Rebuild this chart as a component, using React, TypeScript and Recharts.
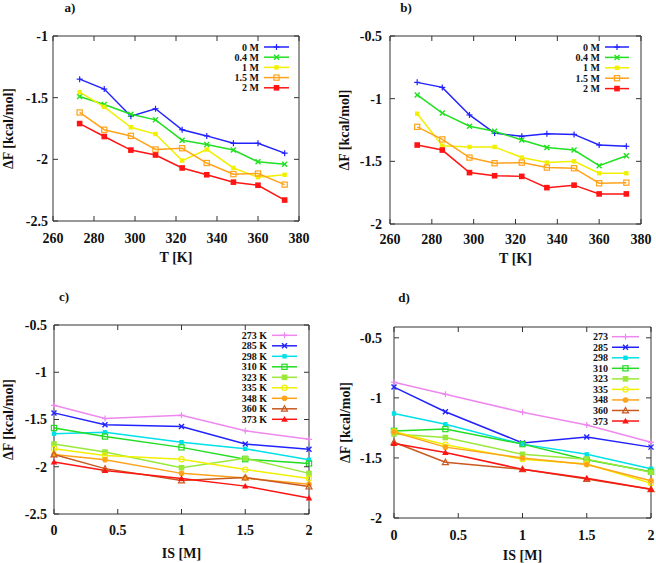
import React from 'react';
import { LineChart, Line, XAxis, YAxis, CartesianGrid, Label } from 'recharts';

// temperatures (K) and ionic strengths (M)
const temperatures = [273, 285, 298, 310, 323, 335, 348, 360, 373];
const ionicStrengths = [0, 0.4, 1, 1.5, 2];
const ionicLabels = ['0 M', '0.4 M', '1 M', '1.5 M', '2 M'];
const tempLabelsK = ['273 K', '285 K', '298 K', '310 K', '323 K', '335 K', '348 K', '360 K', '373 K'];
const tempLabels = ['273', '285', '298', '310', '323', '335', '348', '360', '373'];

// panels a and c: ΔF [kcal/mol] vs T, one list per ionic strength
const dfA_0M = [-1.35, -1.43, -1.65, -1.59, -1.76, -1.81, -1.87, -1.87, -1.95];
const dfA_04M = [-1.49, -1.555, -1.635, -1.68, -1.845, -1.88, -1.925, -2.02, -2.04];
const dfA_1M = [-1.455, -1.575, -1.74, -1.795, -2.01, -1.92, -2.07, -2.145, -2.125];
const dfA_15M = [-1.62, -1.76, -1.81, -1.92, -1.91, -2.03, -2.12, -2.115, -2.205];
const dfA_2M = [-1.71, -1.815, -1.925, -1.965, -2.07, -2.125, -2.185, -2.21, -2.33];

// panels b and d
const dfB_0M = [-0.87, -0.91, -1.13, -1.275, -1.3, -1.28, -1.285, -1.37, -1.38];
const dfB_04M = [-0.97, -1.115, -1.22, -1.26, -1.33, -1.39, -1.41, -1.535, -1.455];
const dfB_1M = [-1.12, -1.375, -1.385, -1.385, -1.47, -1.51, -1.5, -1.595, -1.595];
const dfB_15M = [-1.225, -1.325, -1.47, -1.515, -1.51, -1.55, -1.555, -1.675, -1.67];
const dfB_2M = [-1.37, -1.41, -1.59, -1.615, -1.62, -1.71, -1.69, -1.76, -1.76];

const tempTicks = [260, 280, 300, 320, 340, 360, 380];
const isTicks = [0, 0.5, 1, 1.5, 2];
const yTicksA = [-2.5, -2, -1.5, -1];
const yTicksB = [-2, -1.5, -1, -0.5];
const yTicksC = [-2.5, -2, -1.5, -1, -0.5];
const yTicksD = [-2, -1.5, -1, -0.5];

const ionicColors = ['#2222ff', '#22e022', '#f0f000', '#ffa31a', '#ff1414'];
const ionicShapes = ['plus', 'cross', 'star', 'openSquare', 'square'];
const tempColors = ['#ee88ee', '#2222ff', '#00e0e8', '#22dd22', '#99e83a', '#f0f000', '#ffa31a', '#c8581f', '#ff1414'];
const tempShapes = ['plus', 'cross', 'star', 'openSquare', 'square', 'openCircle', 'circle', 'openTriangle', 'triangle'];

const seriesA = [dfA_0M, dfA_04M, dfA_1M, dfA_15M, dfA_2M];
const seriesB = [dfB_0M, dfB_04M, dfB_1M, dfB_15M, dfB_2M];

function byTemperature(series: number[][]) {
  return temperatures.map((t, i) => {
    const row: any = { x: t };
    series.forEach((s, j) => (row['s' + j] = s[i]));
    return row;
  });
}

function byIonicStrength(series: number[][]) {
  return ionicStrengths.map((c, j) => {
    const row: any = { x: c };
    temperatures.forEach((_, i) => (row['s' + i] = series[j][i]));
    return row;
  });
}

const FONT = '"Liberation Serif", "DejaVu Serif", serif';
const AXIS = '#333';
const TICK = 5;

function Marker({ shape, cx, cy, color }: any) {
  if (cx == null || cy == null) return null;
  const sw = 1.2;
  switch (shape) {
    case 'plus':
      return (
        <g stroke={color} strokeWidth={sw}>
          <line x1={cx - 3} x2={cx + 3} y1={cy} y2={cy} />
          <line x1={cx} x2={cx} y1={cy - 3} y2={cy + 3} />
        </g>
      );
    case 'cross':
      return (
        <g stroke={color} strokeWidth={1.4}>
          <line x1={cx - 2.5} x2={cx + 2.5} y1={cy - 2.5} y2={cy + 2.5} />
          <line x1={cx - 2.5} x2={cx + 2.5} y1={cy + 2.5} y2={cy - 2.5} />
        </g>
      );
    case 'star':
      return <rect x={cx - 2.2} y={cy - 2.2} width={4.4} height={4.4} fill={color} />;
    case 'openSquare':
      return <rect x={cx - 2.6} y={cy - 2.6} width={5.2} height={5.2} fill="none" stroke={color} strokeWidth={sw} />;
    case 'square':
      return <rect x={cx - 2.8} y={cy - 2.8} width={5.6} height={5.6} fill={color} />;
    case 'openCircle':
      return <circle cx={cx} cy={cy} r={2.6} fill="none" stroke={color} strokeWidth={sw} />;
    case 'circle':
      return <circle cx={cx} cy={cy} r={2.8} fill={color} />;
    case 'openTriangle':
      return <path d={`M${cx},${cy - 3} L${cx + 3},${cy + 2.4} L${cx - 3},${cy + 2.4} Z`} fill="none" stroke={color} strokeWidth={sw} />;
    case 'triangle':
      return <path d={`M${cx},${cy - 3.2} L${cx + 3.3},${cy + 2.5} L${cx - 3.3},${cy + 2.5} Z`} fill={color} />;
    default:
      return null;
  }
}

interface PanelProps {
  left: number;
  top: number;
  width: number;
  height: number;
  plot: { x0: number; x1: number; y0: number; y1: number };
  letter: string;
  letterPos: [number, number];
  data: any[];
  names: string[];
  colors: string[];
  shapes: string[];
  xDomain: [number, number];
  xTicks: number[];
  yDomain: [number, number];
  yTicks: number[];
  xTitle: string;
  xTitleOffset: number;
  yTitleX: number;
  yGap: number;
  xGap: number;
  legend: { textRight: number; lineX0: number; lineX1: number; rowY0: number; step: number };
}

function Panel(p: PanelProps) {
  const { plot } = p;
  const tickText = { fontFamily: FONT, fontWeight: 700, fontSize: 14, fill: '#111' };

  const xTick = (props: any) => {
    const { x, payload } = props;
    return (
      <g>
        <line x1={x} x2={x} y1={plot.y1} y2={plot.y1 - TICK} stroke={AXIS} />
        <line x1={x} x2={x} y1={plot.y0} y2={plot.y0 + TICK} stroke={AXIS} />
        <text x={x} y={plot.y1 + p.xGap} dy="0.35em" textAnchor="middle" style={tickText}>
          {payload.value}
        </text>
      </g>
    );
  };

  const yTick = (props: any) => {
    const { y, payload } = props;
    return (
      <g>
        <line x1={plot.x0} x2={plot.x0 + TICK} y1={y} y2={y} stroke={AXIS} />
        <line x1={plot.x1} x2={plot.x1 - TICK} y1={y} y2={y} stroke={AXIS} />
        <text x={plot.x0 - p.yGap} y={y} dy="0.35em" textAnchor="end" style={tickText}>
          {payload.value}
        </text>
      </g>
    );
  };

  const titleStyle = { fontFamily: FONT, fontWeight: 700, fontSize: 14, fill: '#111' };

  return (
    <div style={{ position: 'absolute', left: p.left, top: p.top, width: p.width, height: p.height }}>
      <LineChart
        width={p.width}
        height={p.height}
        data={p.data}
        margin={{ top: plot.y0, right: p.width - plot.x1, bottom: 0, left: 0 }}
      >
        <CartesianGrid
          horizontalPoints={[plot.y0, plot.y1]}
          verticalPoints={[plot.x0, plot.x1]}
          stroke={AXIS}
          strokeWidth={1}
        />
        <XAxis
          dataKey="x"
          type="number"
          domain={p.xDomain}
          ticks={p.xTicks}
          interval={0}
          height={p.height - plot.y1}
          axisLine={false}
          tickLine={false}
          tick={xTick}
        >
          <Label value={p.xTitle} position="insideBottom" offset={p.xTitleOffset} style={titleStyle} />
        </XAxis>
        <YAxis
          type="number"
          domain={p.yDomain}
          ticks={p.yTicks}
          interval={0}
          width={plot.x0}
          axisLine={false}
          tickLine={false}
          tick={yTick}
        >
          <Label
            value="ΔF [kcal/mol]"
            position="insideLeft"
            angle={-90}
            offset={p.yTitleX}
            style={{ ...titleStyle, textAnchor: 'middle' }}
          />
        </YAxis>
        {p.names.map((name, i) => (
          <Line
            key={name}
            name={name}
            dataKey={'s' + i}
            type="linear"
            stroke={p.colors[i]}
            strokeWidth={1.5}
            isAnimationActive={false}
            activeDot={false}
            dot={(d: any) => (
              <Marker key={`${name}-${d.index}`} shape={p.shapes[i]} cx={d.cx} cy={d.cy} color={p.colors[i]} />
            )}
          />
        ))}
      </LineChart>
      <svg
        width={p.width}
        height={p.height}
        style={{ position: 'absolute', left: 0, top: 0, pointerEvents: 'none' }}
      >
        <text
          x={p.letterPos[0]}
          y={p.letterPos[1]}
          dy="0.35em"
          textAnchor="middle"
          style={{ fontFamily: FONT, fontWeight: 700, fontSize: 13, fill: '#111' }}
        >
          {p.letter}
        </text>
        {p.names.map((name, i) => {
          const y = p.legend.rowY0 + i * p.legend.step;
          return (
            <g key={name}>
              <text
                x={p.legend.textRight}
                y={y}
                dy="0.35em"
                textAnchor="end"
                style={{ fontFamily: FONT, fontWeight: 700, fontSize: 10, fill: '#111' }}
              >
                {name}
              </text>
              <line x1={p.legend.lineX0} x2={p.legend.lineX1} y1={y} y2={y} stroke={p.colors[i]} strokeWidth={1.5} />
              <Marker
                shape={p.shapes[i]}
                cx={(p.legend.lineX0 + p.legend.lineX1) / 2}
                cy={y}
                color={p.colors[i]}
              />
            </g>
          );
        })}
      </svg>
    </div>
  );
}

export default function App() {
  const dataA = byTemperature(seriesA);
  const dataB = byTemperature(seriesB);
  const dataC = byIonicStrength(seriesA);
  const dataD = byIonicStrength(seriesB);

  return (
    <div style={{ position: 'absolute', left: 0, top: 0, width: 656, height: 563, background: '#fff', overflow: 'hidden' }}>
      <Panel
        left={0}
        top={0}
        width={328}
        height={280}
        plot={{ x0: 53, x1: 299, y0: 36, y1: 221 }}
        letter="a)"
        letterPos={[70, 7]}
        data={dataA}
        names={ionicLabels}
        colors={ionicColors}
        shapes={ionicShapes}
        xDomain={[260, 380]}
        xTicks={tempTicks}
        yDomain={[-2.5, -1]}
        yTicks={yTicksA}
        xTitle="T [K]"
        xTitleOffset={18}
        yTitleX={8}
        yGap={5}
        xGap={17}
        legend={{ textRight: 259, lineX0: 264, lineX1: 289, rowY0: 47, step: 10.2 }}
      />
      <Panel
        left={328}
        top={0}
        width={328}
        height={280}
        plot={{ x0: 62, x1: 313, y0: 36, y1: 224 }}
        letter="b)"
        letterPos={[78, 7]}
        data={dataB}
        names={ionicLabels}
        colors={ionicColors}
        shapes={ionicShapes}
        xDomain={[260, 380]}
        xTicks={tempTicks}
        yDomain={[-2, -0.5]}
        yTicks={yTicksB}
        xTitle="T [K]"
        xTitleOffset={17}
        yTitleX={16}
        yGap={8}
        xGap={15}
        legend={{ textRight: 272, lineX0: 277, lineX1: 301, rowY0: 47, step: 10.4 }}
      />
      <Panel
        left={0}
        top={280}
        width={328}
        height={283}
        plot={{ x0: 54, x1: 309, y0: 45, y1: 234 }}
        letter="c)"
        letterPos={[64, 16]}
        data={dataC}
        names={tempLabelsK}
        colors={tempColors}
        shapes={tempShapes}
        xDomain={[0, 2]}
        xTicks={isTicks}
        yDomain={[-2.5, -0.5]}
        yTicks={yTicksC}
        xTitle="IS [M]"
        xTitleOffset={5}
        yTitleX={8}
        yGap={7}
        xGap={16}
        legend={{ textRight: 267, lineX0: 272, lineX1: 297, rowY0: 55.3, step: 10.5 }}
      />
      <Panel
        left={328}
        top={280}
        width={328}
        height={283}
        plot={{ x0: 66, x1: 323, y0: 47, y1: 238 }}
        letter="d)"
        letterPos={[76, 17]}
        data={dataD}
        names={tempLabels}
        colors={tempColors}
        shapes={tempShapes}
        xDomain={[0, 2]}
        xTicks={isTicks}
        yDomain={[-2, -0.41]}
        yTicks={yTicksD}
        xTitle="IS [M]"
        xTitleOffset={3}
        yTitleX={17}
        yGap={12}
        xGap={17}
        legend={{ textRight: 280, lineX0: 284, lineX1: 311, rowY0: 56.7, step: 10.54 }}
      />
    </div>
  );
}
